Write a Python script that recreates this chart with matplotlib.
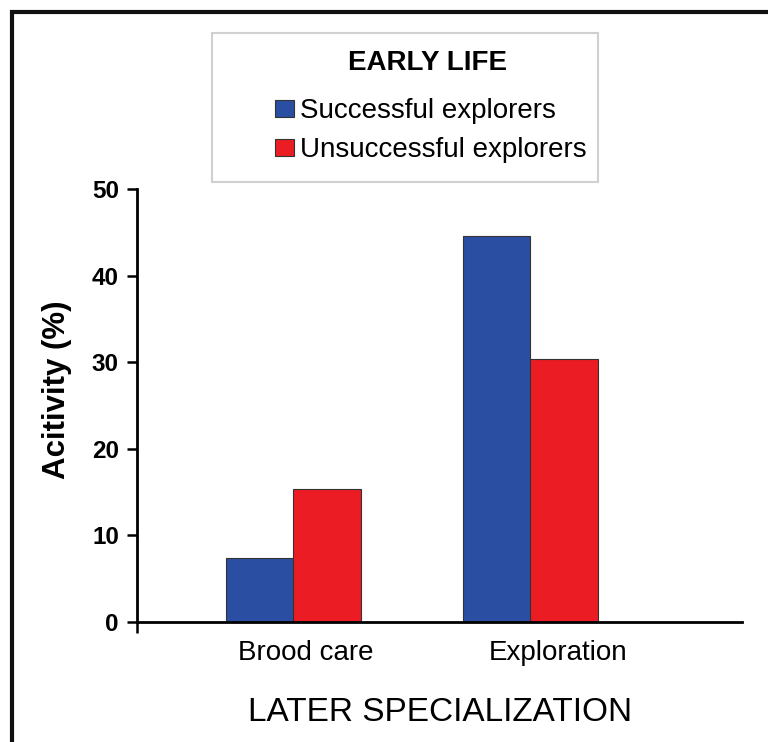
import matplotlib
matplotlib.use('Agg')
import matplotlib.pyplot as plt
import matplotlib.transforms as mtransforms
import numpy as np
from matplotlib.patches import Rectangle

plt.rcParams['font.family'] = ['Liberation Sans', 'DejaVu Sans']

# Daten
categories = ['Brood care', 'Exploration']
series_names = ['Successful explorers', 'Unsuccessful explorers']
successful = [7.4, 44.6]
unsuccessful = [15.4, 30.4]
y_ticks = [0, 10, 20, 30, 40, 50]

blue = '#2a4fa2'
red = '#ec1c24'

fig = plt.figure(figsize=(7.68, 7.42), dpi=100)
ax = fig.add_axes([0.1784, 0.1617, 0.788, 0.5836])

x = np.arange(len(categories))
w = 0.285
b1 = ax.bar(x - w / 2, successful, w, color=blue, edgecolor='#333333', linewidth=0.8,
            label=series_names[0])
b2 = ax.bar(x + w / 2, unsuccessful, w, color=red, edgecolor='#333333', linewidth=0.8,
            label=series_names[1])

ax.set_xlim(-0.66, 1.895)
ax.set_ylim(0, 50)
ax.set_yticks(y_ticks)
ax.set_yticklabels([str(t) for t in y_ticks], fontsize=17.5, fontweight='bold')
ax.set_xticks(x)
ax.set_xticklabels(categories, fontsize=20)
ax.tick_params(axis='x', length=0, pad=13)
ax.tick_params(axis='y', direction='out', length=7, width=1.8, pad=6)
ax.set_xticks([-0.66], minor=True)
ax.tick_params(axis='x', which='minor', direction='out', length=8, width=1.8)

# Beschriftungen im Original leicht nach rechts versetzt
for lab, dx in zip(ax.get_xticklabels(), [12, 28]):
    lab.set_transform(lab.get_transform() +
                      mtransforms.ScaledTranslation(dx / 100, 0, fig.dpi_scale_trans))

for s in ['top', 'right']:
    ax.spines[s].set_visible(False)
for s in ['left', 'bottom']:
    ax.spines[s].set_linewidth(2)

ax.set_ylabel('Acitivity (%)', fontsize=22.5, fontweight='bold')
ax.yaxis.set_label_coords(-0.108, 0.536)
ax.set_xlabel('LATER SPECIALIZATION', fontsize=24, labelpad=22)

# Legende mit eigenem Rahmen
fig.add_artist(Rectangle((212 / 768, 1 - 182 / 742), (598 - 212) / 768, (182 - 33) / 742,
                         transform=fig.transFigure, fill=False, edgecolor='#d0d0d0', lw=1.5))
fig.text(427 / 768, 1 - 63 / 742, 'EARLY LIFE', fontsize=20, fontweight='bold',
         ha='center', va='center')
leg = fig.legend(handles=[b1, b2], loc='upper left', bbox_to_anchor=(275 / 768, 1 - 98 / 742),
                 frameon=False, fontsize=20, handlelength=0.7, handleheight=0.55,
                 handletextpad=0.2, labelspacing=0.48, borderpad=0, borderaxespad=0)

# Aeusserer Rahmen
fig.add_artist(Rectangle((12 / 768, -0.1), 1.0, 1 - 12 / 742 + 0.1, transform=fig.transFigure,
                         fill=False, edgecolor='#111111', lw=3))

fig.savefig('out.png', dpi=100)
